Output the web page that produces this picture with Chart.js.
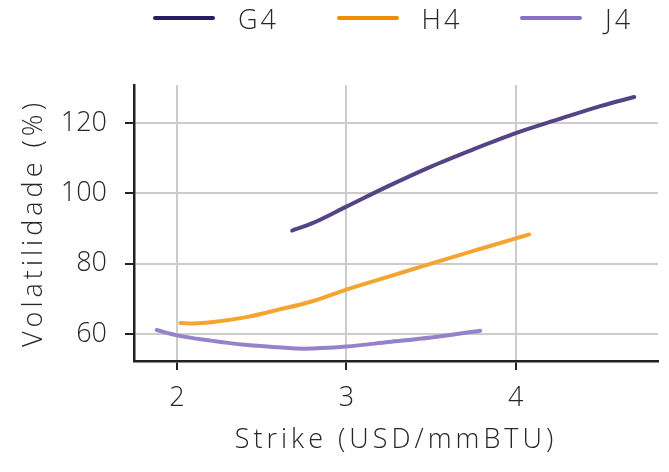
<!DOCTYPE html>
<html>
<head>
<meta charset="utf-8">
<script src="https://cdn.jsdelivr.net/npm/chart.js@4/dist/chart.umd.min.js"></script>
<style>
  body { margin: 0; background: #fff; }
  #wrap { position: relative; width: 669px; height: 472px; }
  #legend {
    position: absolute; left: 153px; top: 0; height: 36px;
    display: flex; align-items: center;
    font-family: "Open Sans", sans-serif; font-weight: 300; font-size: 27px; color: #262626;
    letter-spacing: 3px;
  }
  #legend .item { display: flex; align-items: center; width: 183.5px; }
  #legend .swatch { width: 62px; height: 4px; border-radius: 2px; margin-right: 23px; }
</style>
</head>
<body>
<div id="wrap">
  <canvas id="smileChart"></canvas>
  <div id="legend"></div>
</div>
<script>
// Smile de volatilidade por vencimento
const seriesNames = ['G4', 'H4', 'J4'];

const g4Strike = [2.68, 2.8, 3.0, 3.25, 3.5, 3.75, 4.0, 4.25, 4.5, 4.70];
const g4Vol    = [89.4, 91.5, 96.2, 102.1, 107.6, 112.5, 117.1, 121.0, 124.8, 127.4];

const h4Strike = [2.02, 2.1, 2.2, 2.4, 2.6, 2.8, 3.0, 3.25, 3.5, 3.75, 4.0, 4.08];
const h4Vol    = [63.1, 63.0, 63.3, 64.7, 66.9, 69.3, 72.6, 76.3, 80.0, 83.6, 87.2, 88.3];

const j4Strike = [1.88, 2.0, 2.2, 2.4, 2.6, 2.75, 3.0, 3.25, 3.5, 3.79];
const j4Vol    = [61.1, 59.6, 58.1, 56.9, 56.2, 55.8, 56.4, 57.7, 59.0, 60.9];

const xTicks = [2, 3, 4];
const yTicks = [60, 80, 100, 120];

const lineColors   = ['#544484', '#f3a431', '#9582c9'];
const legendColors = ['#2b1a66', '#f08c00', '#8a6fc6'];

const FONT = '"Open Sans", sans-serif';
const TEXT = '#262626';
const tickFont = { family: FONT, size: 27, weight: 300 };

function toPoints(xs, ys) {
    return xs.map((x, i) => ({ x: x, y: ys[i] }));
}

const allStrikes = [g4Strike, h4Strike, j4Strike];
const allVols = [g4Vol, h4Vol, j4Vol];

const datasets = seriesNames.map((name, i) => ({
    label: name,
    data: toPoints(allStrikes[i], allVols[i]),
    borderColor: lineColors[i],
    borderWidth: 4,
    pointRadius: 0,
    fill: false,
    cubicInterpolationMode: 'monotone',
    borderCapStyle: 'round'
}));

// HTML legend (line swatch + label)
const legendEl = document.getElementById('legend');
seriesNames.forEach((name, i) => {
    const item = document.createElement('div');
    item.className = 'item';
    item.innerHTML = '<span class="swatch" style="background:' + legendColors[i] + '"></span><span>' + name + '</span>';
    legendEl.appendChild(item);
});

// wider titles: axis titles are drawn with the border layer (before datasets),
// tick labels are moved to a later layer (ticks.z = 1) and drawn without spacing
const titleSpacing = {
    id: 'titleSpacing',
    beforeDraw(chart) { chart.ctx.letterSpacing = '4px'; },
    afterDatasetsDraw(chart) { chart.ctx.letterSpacing = '0px'; }
};

const ctx = document.getElementById('smileChart').getContext('2d');
const myChart = new Chart(ctx, {
    type: 'line',
    data: { datasets: datasets },
    plugins: [titleSpacing],
    options: {
        responsive: true,
        maintainAspectRatio: false,
        animation: false,
        layout: { padding: { left: 0, right: 11, top: 85, bottom: 0 } },
        plugins: {
            tooltip: { enabled: false },
            legend: { display: false }
        },
        scales: {
            x: {
                type: 'linear',
                min: 1.746,
                max: 4.84,
                afterBuildTicks: (scale) => { scale.ticks = xTicks.map(v => ({ value: v })); },
                ticks: { font: tickFont, color: TEXT, padding: 12, z: 1 },
                grid: { color: '#cccccc', lineWidth: 2, tickColor: '#222', tickLength: 9 },
                border: { color: '#222', width: 2.5 },
                title: {
                    display: true,
                    text: 'Strike (USD/mmBTU)',
                    font: tickFont,
                    color: TEXT,
                    padding: { top: 0, bottom: 15 }
                },
                afterFit: (scale) => { scale.height = 111; }
            },
            y: {
                min: 52.3,
                max: 130.8,
                afterBuildTicks: (scale) => { scale.ticks = yTicks.map(v => ({ value: v })); },
                ticks: { font: tickFont, color: TEXT, padding: 18, z: 1 },
                grid: { color: '#cccccc', lineWidth: 2, tickColor: '#222', tickLength: 9 },
                border: { color: '#222', width: 2.5 },
                title: {
                    display: true,
                    text: 'Volatilidade (%)',
                    font: tickFont,
                    color: TEXT,
                    padding: { top: 18, bottom: 0 }
                },
                afterFit: (scale) => { scale.width = 134; }
            }
        }
    }
});
</script>
</body>
</html>
